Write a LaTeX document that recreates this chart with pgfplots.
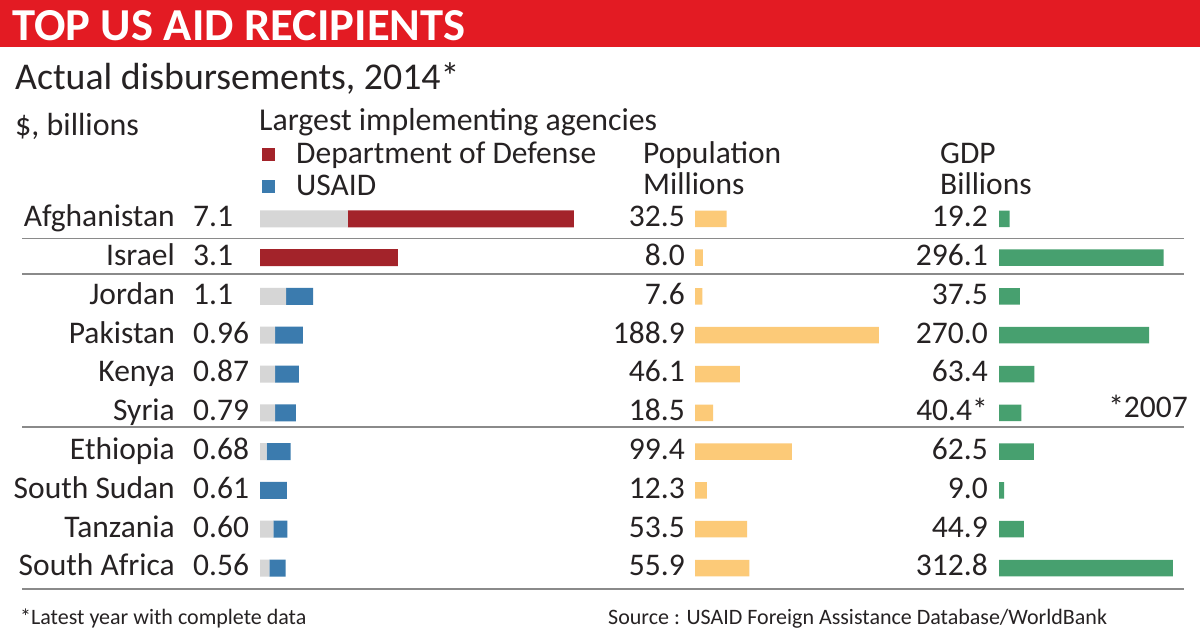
\documentclass[border=0pt]{standalone}
\usepackage{pgfplots}
\pgfplotsset{compat=1.18}
\usepackage{pgfplotstable}
\usepackage{fontspec}
\setmainfont{Carlito}
\usepackage{graphicx}
\definecolor{hdr}{HTML}{E31B23}
\definecolor{dod}{HTML}{A3232A}
\definecolor{usaid}{HTML}{3B7BAE}
\definecolor{gry}{HTML}{D6D6D6}
\definecolor{popc}{HTML}{FCCA78}
\definecolor{gdpc}{HTML}{47A06F}
\definecolor{txt}{HTML}{262223}
\definecolor{sep}{HTML}{8A8A8A}
\pgfplotstableread{
row gray red blue pop gdp
0 1.99 5.11 0 32.5 19.2
1 0 3.12 0 8.0 296.1
2 0.59 0 0.61 7.6 37.5
3 0.34 0 0.63 188.9 270.0
4 0.34 0 0.54 46.1 63.4
5 0.34 0 0.47 18.5 40.4
6 0.15 0 0.54 99.4 62.5
7 0 0 0.61 12.3 9.0
8 0.30 0 0.32 53.5 44.9
9 0.21 0 0.37 55.9 312.8
}\data
\pgfplotsset{rowaxis/.style={scale only axis, height=388pt, ymin=-0.5, ymax=9.5,
  y dir=reverse, hide axis, clip=false, anchor=north west}}
\begin{document}
\begin{tikzpicture}[x=1pt,y=1pt,text=txt]
\fill[white] (0,0) rectangle (1200,630);
\fill[hdr] (0,{630-47}) rectangle (1200,630);
\node[anchor=south west,inner sep=0,text=white] at (12,{630-41}) {\resizebox{453pt}{30pt}{\bfseries TOP US AID RECIPIENTS}};
\node[anchor=base west,inner sep=0] at (15,{630-90}) {\fontsize{37.8}{42}\selectfont Actual disbursements, 2014*};
\node[anchor=base west,inner sep=0] at (15,{630-136}) {\fontsize{32}{36}\selectfont \$, billions};
\node[anchor=base west,inner sep=0] at (259,{630-131}) {\fontsize{31.8}{36}\selectfont Largest implementing agencies};
\fill[dod] (262,{630-148}) rectangle (275,{630-161});
\fill[usaid] (262,{630-180}) rectangle (275,{630-193});
\node[anchor=base west,inner sep=0] at (296,{630-164}) {\fontsize{31.5}{36}\selectfont Department of Defense};
\node[anchor=base west,inner sep=0] at (296,{630-196}) {\fontsize{31.5}{36}\selectfont USAID};
\node[anchor=base west,inner sep=0] at (643,{630-164}) {\fontsize{31.5}{36}\selectfont Population};
\node[anchor=base west,inner sep=0] at (643,{630-195}) {\fontsize{31.5}{36}\selectfont Millions};
\node[anchor=base west,inner sep=0] at (940,{630-164}) {\fontsize{31.5}{36}\selectfont GDP};
\node[anchor=base west,inner sep=0] at (940,{630-195}) {\fontsize{31.5}{36}\selectfont Billions};
% separators
\foreach \yy in {238.5,274,427,589} \draw[sep,line width=1.4pt] (22,{630-\yy}) -- (1184,{630-\yy});
% row labels
\foreach \nm/\va/\pp/\gg [count=\i from 0] in {Afghanistan/7.1/32.5/19.2, Israel/3.1/8.0/296.1, Jordan/1.1/7.6/37.5, Pakistan/0.96/188.9/270.0, Kenya/0.87/46.1/63.4, Syria/0.79/18.5/40.4*, Ethiopia/0.68/99.4/62.5, South Sudan/0.61/12.3/9.0, Tanzania/0.60/53.5/44.9, South Africa/0.56/55.9/312.8}{
  \pgfmathsetmacro{\by}{630-(218.8+38.78*\i)-8}
  \node[anchor=base east,inner sep=0] at (175,\by) {\fontsize{31.5}{36}\selectfont \nm};
  \node[anchor=base west,inner sep=0] at (193,\by) {\fontsize{31.5}{36}\selectfont \va};
  \node[anchor=base east,inner sep=0] at (685,\by) {\fontsize{31.5}{36}\selectfont \pp};
  \node[anchor=base east,inner sep=0] at (988,\by) {\fontsize{31.5}{36}\selectfont \gg};
}
\node[anchor=base east,inner sep=0] at (1188,{630-417.5}) {\fontsize{31.5}{36}\selectfont *2007};
% footer
\node[anchor=base west,inner sep=0] at (20,{630-624}) {\fontsize{22}{26}\selectfont *Latest year with complete data};
\node[anchor=base west,inner sep=0] at (608,{630-624}) {\fontsize{22}{26}\selectfont Source : USAID Foreign Assistance Database/WorldBank};
% aid
\begin{axis}[rowaxis, at={(260pt,430.6pt)}, width=353.6pt, xmin=0, xmax=8, xbar stacked, bar width=17pt]
\addplot[fill=gry,draw=none] table[x=gray,y=row]{\data};
\addplot[fill=dod,draw=none] table[x=red,y=row]{\data};
\addplot[fill=usaid,draw=none] table[x=blue,y=row]{\data};
\end{axis}
% population
\begin{axis}[rowaxis, at={(695pt,430.6pt)}, width=194.8pt, xmin=0, xmax=200, xbar, bar width=16.5pt]
\addplot[fill=popc,draw=none] table[x=pop,y=row]{\data};
\end{axis}
% gdp
\begin{axis}[rowaxis, at={(999pt,430.6pt)}, width=177.9pt, xmin=0, xmax=320, xbar, bar width=16.5pt]
\addplot[fill=gdpc,draw=none] table[x=gdp,y=row]{\data};
\end{axis}
\end{tikzpicture}
\end{document}
